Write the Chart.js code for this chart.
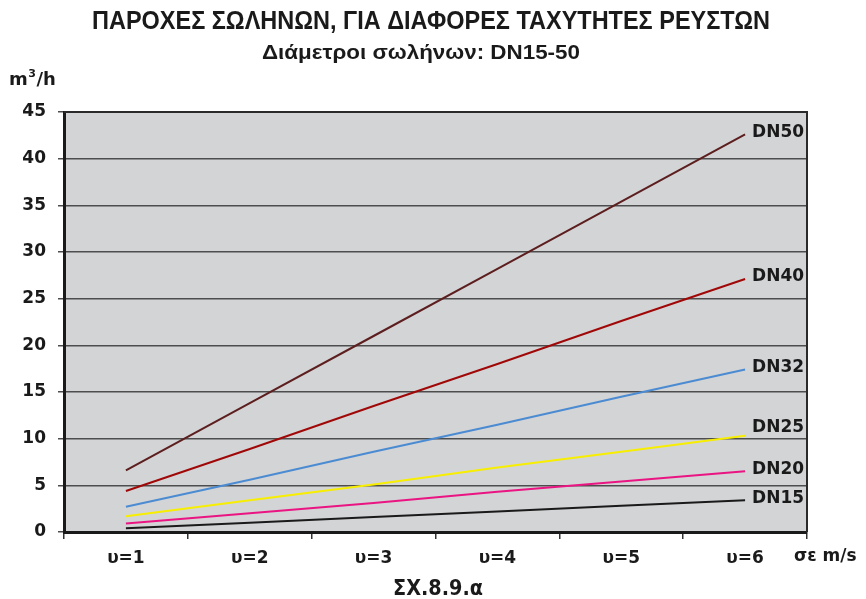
<!DOCTYPE html>
<html>
<head>
<meta charset="utf-8">
<script src="https://cdn.jsdelivr.net/npm/chart.js@4"></script>
<style>
  html, body { margin: 0; padding: 0; background: #fff; }
  canvas { display: block; }
</style>
</head>
<body>
<canvas id="chart" width="866" height="599"></canvas>
<script>
// ταχύτητες ροής (m/s)
const velocities = ['υ=1', 'υ=2', 'υ=3', 'υ=4', 'υ=5', 'υ=6'];

// παροχές σε m3/h για κάθε διάμετρο
const pipeNames = ['DN50', 'DN40', 'DN32', 'DN25', 'DN20', 'DN15'];
const dn50 = [6.6, 13.8, 21.0, 28.2, 35.4, 42.6];
const dn40 = [4.4, 8.9, 13.5, 18.0, 22.6, 27.1];
const dn32 = [2.7, 5.6, 8.6, 11.5, 14.5, 17.4];
const dn25 = [1.7, 3.4, 5.1, 6.9, 8.6, 10.3];
const dn20 = [0.9, 2.0, 3.1, 4.3, 5.4, 6.5];
const dn15 = [0.4, 1.0, 1.6, 2.2, 2.8, 3.4];
const pipeColors = ['#5c1e1e', '#a00808', '#4b8bd2', '#f7ee00', '#ea1582', '#1a1a1a'];

const TXT = '#1a1a1a';
const FONT = '"DejaVu Sans", sans-serif';

// κείμενο σε συγκεκριμένο πλάτος (στενή γραμματοσειρά τίτλου)
function fitText(ctx, text, cx, cy, width, font) {
  ctx.save();
  ctx.font = font;
  const w = ctx.measureText(text).width;
  ctx.translate(cx, cy);
  ctx.scale(width / w, 1);
  ctx.textAlign = 'center';
  ctx.textBaseline = 'middle';
  ctx.fillText(text, 0, 0);
  ctx.restore();
}

const decorations = {
  id: 'decorations',
  beforeDraw(chart) {
    const { ctx, chartArea: a } = chart;
    ctx.save();
    ctx.fillStyle = '#d3d4d6';
    ctx.fillRect(a.left, a.top, a.right - a.left, a.bottom - a.top);
    ctx.restore();
  },
  afterDatasetsDraw(chart) {
    const { ctx, scales } = chart;
    ctx.save();
    ctx.fillStyle = TXT;
    ctx.font = 'bold 17px ' + FONT;
    ctx.textAlign = 'left';
    ctx.textBaseline = 'middle';
    chart.data.datasets.forEach(ds => {
      const last = ds.data.length - 1;
      const x = scales.x.getPixelForValue(last) + 7;
      let y = scales.y.getPixelForValue(ds.data[last]) - 2;
      if (ds.label === 'DN25') y -= 6; // ώστε να μην πέφτει πάνω στη γραμμή
      ctx.fillText(ds.label, x, y);
    });
    ctx.restore();
  },
  afterDraw(chart) {
    const { ctx, chartArea: a } = chart;
    ctx.save();
    // πάνω και δεξί πλαίσιο
    ctx.strokeStyle = '#2a2a2a';
    ctx.lineWidth = 2;
    ctx.beginPath();
    ctx.moveTo(a.left, a.top);
    ctx.lineTo(a.right, a.top);
    ctx.lineTo(a.right, a.bottom);
    ctx.stroke();

    ctx.fillStyle = TXT;
    fitText(ctx, 'ΠΑΡΟΧΕΣ ΣΩΛΗΝΩΝ, ΓΙΑ ΔΙΑΦΟΡΕΣ ΤΑΧΥΤΗΤΕΣ ΡΕΥΣΤΩΝ', 431, 22, 678, 'bold 25px "Liberation Sans", sans-serif');
    fitText(ctx, 'Διάμετροι σωλήνων: DN15-50', 421, 53, 318, 'bold 20px "Liberation Sans", sans-serif');

    // μονάδα άξονα y
    ctx.font = 'bold 18px ' + FONT;
    ctx.textAlign = 'left';
    ctx.textBaseline = 'alphabetic';
    ctx.fillText('m', 9, 85);
    let x = 9 + ctx.measureText('m').width;
    ctx.font = 'bold 11px ' + FONT;
    ctx.fillText('3', x + 0.5, 77);
    x += ctx.measureText('3').width + 1;
    ctx.font = 'bold 18px ' + FONT;
    ctx.fillText('/h', x, 85);

    // μονάδα άξονα x
    ctx.font = 'bold 17px ' + FONT;
    ctx.textBaseline = 'middle';
    ctx.fillText('σε m/s', 794, 557);

    fitText(ctx, 'ΣΧ.8.9.α', 438, 589, 90, 'bold 22px ' + FONT);
    ctx.restore();
  }
};

const series = [dn50, dn40, dn32, dn25, dn20, dn15];

new Chart(document.getElementById('chart'), {
  type: 'line',
  data: {
    labels: velocities,
    datasets: series.map((d, i) => ({
      label: pipeNames[i],
      data: d,
      borderColor: pipeColors[i],
      borderWidth: 2,
      pointRadius: 0,
      tension: 0,
      fill: false
    }))
  },
  options: {
    responsive: false,
    animation: false,
    devicePixelRatio: 1,
    layout: { padding: { top: 112, right: 59, left: 0, bottom: 0 } },
    plugins: {
      legend: { display: false },
      title: { display: false },
      tooltip: { enabled: false }
    },
    scales: {
      x: {
        type: 'category',
        offset: true,
        grid: { offset: true, drawOnChartArea: false, tickLength: 7, color: '#333', lineWidth: 1.5 },
        border: { color: TXT, width: 3 },
        ticks: { color: TXT, font: { family: FONT, size: 17, weight: 'bold' }, padding: 9, maxRotation: 0 },
        afterFit: s => { s.height = 67; }
      },
      y: {
        min: 0,
        max: 45,
        ticks: { stepSize: 5, color: TXT, font: { family: FONT, size: 17, weight: 'bold' }, padding: 12 },
        grid: { color: '#4d4d4d', lineWidth: 1.5, tickLength: 6 },
        border: { color: TXT, width: 3 },
        afterFit: s => { s.width = 64; }
      }
    }
  },
  plugins: [decorations]
});
</script>
</body>
</html>
